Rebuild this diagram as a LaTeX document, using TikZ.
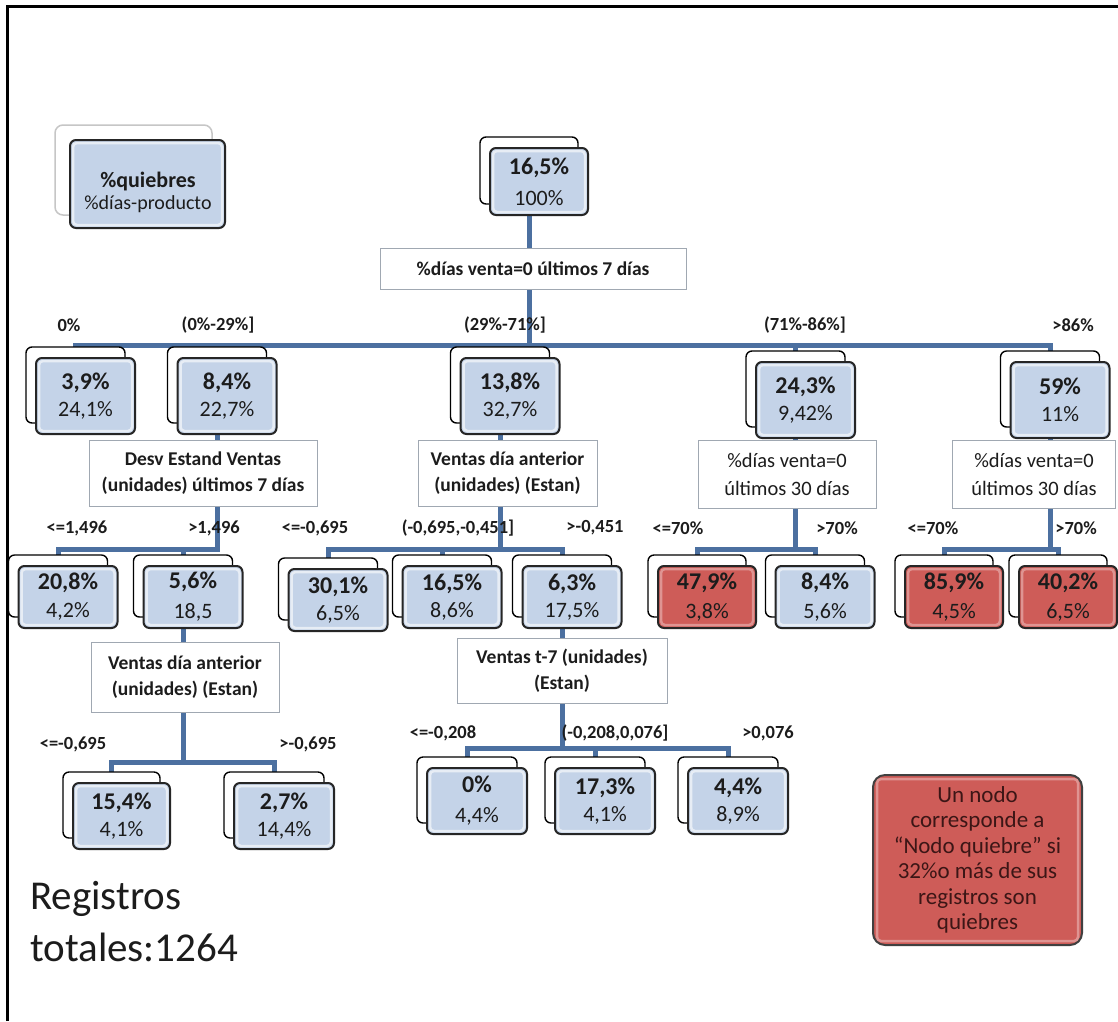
\documentclass[tikz,border=0pt]{standalone}
\usepackage{fontspec}
\setmainfont{Carlito}
\usetikzlibrary{calc,backgrounds}
\definecolor{nodeblue}{RGB}{196,211,232}
\definecolor{nodered}{RGB}{206,92,88}
\definecolor{connblue}{RGB}{76,112,160}
\definecolor{boxgray}{RGB}{160,168,178}
\definecolor{txt}{RGB}{28,28,28}
\definecolor{notetxt}{RGB}{60,22,22}
\tikzset{
  backbox/.style={draw=black, line width=1.4pt, fill=white, rounded corners=6pt, inner sep=0pt},
  bluebox/.style={draw=black!85, line width=2pt, fill=nodeblue, rounded corners=6pt, inner sep=0pt,
    align=center, text=txt, font=\fontsize{22}{27}\selectfont},
  redbox/.style={bluebox, fill=nodered},
  blueboxbevel/.style={draw=white, draw opacity=0.6, line width=2.5pt, rounded corners=4pt},
  redboxbevel/.style={draw=white, draw opacity=0.35, line width=2.5pt, rounded corners=4pt},
  sbox/.style={draw=boxgray, line width=1pt, fill=white, inner sep=0pt, align=center, text=txt,
    font=\fontsize{19.5}{26}\selectfont\bfseries},
  sboxr/.style={sbox, font=\fontsize{20.5}{28}\selectfont},
  lbl/.style={inner sep=0pt, text=txt, font=\fontsize{18.5}{22}\selectfont\bfseries},
  conn/.style={line width=5pt, draw=connblue},
  bt/.style={font=\fontsize{24}{27}\selectfont\bfseries},
}
\newcommand{\hl}[1]{{\fontsize{24}{27}\selectfont\bfseries #1}}
\newcommand{\tnode}[7]{%
  \node[backbox, minimum width=#4pt, minimum height=#5pt] (#1b) at ({#2-10},{#3-11}) {};
  \node[#6, minimum width=#4pt, minimum height=#5pt] (#1) at (#2,#3) {#7};
  \draw[#6bevel] ([shift={(4pt,-4pt)}]#1.north west) rectangle ([shift={(-4pt,4pt)}]#1.south east);
}
\begin{document}
\begin{tikzpicture}[x=1pt,y=-1pt]
\begin{pgfonlayer}{background}
  \fill[white] (0,0) rectangle (1118,1021);
\end{pgfonlayer}
\useasboundingbox (0,0) rectangle (1118,1021);
\draw[line width=3pt] (7,1021) -- (7,6) -- (1118,6);

% legend
\node[draw=gray!45, line width=1.5pt, fill=white, rounded corners=8pt, minimum width=157pt, minimum height=90pt] (legb) at (133.5,170) {};
\node[bluebox, minimum width=155pt, minimum height=88pt] (leg) at (147.5,184) {};
\draw[blueboxbevel] ([shift={(4pt,-4pt)}]leg.north west) rectangle ([shift={(-4pt,4pt)}]leg.south east);
\node[align=center, inner sep=0pt, text=txt, font=\fontsize{20}{22}\selectfont] (legt) at (148,192)
  {{\fontsize{22}{22}\selectfont\bfseries\%quiebres}\\\%días-producto};

% root
\tnode{root}{539}{181.5}{98}{67}{bluebox}{\hl{16,5\%}\\[4pt]100\%}
\node[sbox, minimum width=306pt, minimum height=41pt] (s1) at (533,268.5) {\%días venta=0 últimos 7 días};

% level 1
\tnode{a}{85.5}{396}{99}{76}{bluebox}{\hl{3,9\%}\\24,1\%}
\tnode{b}{227}{396}{99}{76}{bluebox}{\hl{8,4\%}\\22,7\%}
\tnode{c}{510}{396}{99}{76}{bluebox}{\hl{13,8\%}\\32,7\%}
\tnode{d}{805.5}{400}{99}{76}{bluebox}{\hl{24,3\%}\\9,42\%}
\tnode{e}{1060}{400}{99}{76}{bluebox}{\hl{59\%}\\11\%}
\node[lbl] (la) at (69,325) {0\%};
\node[lbl] (lb) at (218,325) {(0\%-29\%]};
\node[lbl] (lc) at (505,325) {(29\%-71\%]};
\node[lbl] (ld) at (805,325) {(71\%-86\%]};
\node[lbl] (le) at (1073,325) {>86\%};

% split boxes level 2
\node[sbox, minimum width=228pt, minimum height=66pt] (sA) at (203,473) {Desv Estand Ventas\\(unidades) últimos 7 días};
\node[sbox, minimum width=179pt, minimum height=66pt] (sB) at (507.5,473) {Ventas día anterior\\(unidades) (Estan)};
\node[sboxr, minimum width=178pt, minimum height=68pt] (sC) at (787,474) {\%días venta=0\\últimos 30 días};
\node[sboxr, minimum width=163pt, minimum height=68pt] (sD) at (1034,474) {\%días venta=0\\últimos 30 días};

% level 2
\tnode{f}{68}{597}{99}{62}{bluebox}{\hl{20,8\%}\\[1pt]4,2\%}
\tnode{g}{193}{597}{99}{62}{bluebox}{\hl{5,6\%}\\[3pt]18,5}
\tnode{h}{338}{600}{99}{62}{bluebox}{\hl{30,1\%}\\6,5\%}
\tnode{i}{452}{597}{99}{62}{bluebox}{\hl{16,5\%}\\8,6\%}
\tnode{j}{572}{597}{99}{62}{bluebox}{\hl{6,3\%}\\17,5\%}
\tnode{k}{707}{597}{98}{62}{redbox}{\hl{47,9\%}\\[2pt]3,8\%}
\tnode{l}{825}{597}{99}{62}{bluebox}{\hl{8,4\%}\\[2pt]5,6\%}
\tnode{m}{954}{597}{98}{62}{redbox}{\hl{85,9\%}\\[2pt]4,5\%}
\tnode{n}{1068}{597}{98}{62}{redbox}{\hl{40,2\%}\\[2pt]6,5\%}
\node[lbl] (lf) at (77,528) {<=1,496};
\node[lbl] (lg) at (214,528) {>1,496};
\node[lbl] (lh) at (315,528) {<=-0,695};
\node[lbl] (li) at (458,528) {(-0,695,-0,451]};
\node[lbl] (lj) at (595,528) {>-0,451};
\node[lbl] (lk) at (678,528) {<=70\%};
\node[lbl] (ll) at (837,528) {>70\%};
\node[lbl] (lm) at (933,528) {<=70\%};
\node[lbl] (ln) at (1076,528) {>70\%};

% split boxes level 3
\node[sbox, minimum width=188pt, minimum height=70pt] (sE) at (185,677) {Ventas día anterior\\(unidades) (Estan)};
\node[sbox, minimum width=210pt, minimum height=65pt] (sF) at (562,671) {Ventas t-7 (unidades)\\(Estan)};

% level 3
\tnode{o}{121.5}{816}{97}{66}{bluebox}{\hl{15,4\%}\\4,1\%}
\tnode{p}{284}{816}{100}{66}{bluebox}{\hl{2,7\%}\\14,4\%}
\tnode{q}{477}{801}{100}{66}{bluebox}{\hl{0\%}\\[3pt]4,4\%}
\tnode{r}{605}{801}{100}{66}{bluebox}{\hl{17,3\%}\\4,1\%}
\tnode{s}{738}{801}{100}{66}{bluebox}{\hl{4,4\%}\\8,9\%}
\node[lbl] (lo) at (73,744) {<=-0,695};
\node[lbl] (lp) at (308,744) {>-0,695};
\node[lbl] (lq) at (443,733) {<=-0,208};
\node[lbl] (lr) at (615,733) {(-0,208,0,076]};
\node[lbl] (ls) at (768,733) {>0,076};

% note
\node[draw=black!75, line width=2pt, fill=nodered, rounded corners=12pt, inner sep=0pt,
  minimum width=209pt, minimum height=170pt, align=center, text=notetxt,
  font=\fontsize{23}{25.5}\selectfont] (note) at (977.5,860)
  {Un nodo\\corresponde a\\“Nodo quiebre” si\\32\%o más de sus\\registros son\\quiebres};
\draw[redboxbevel] ([shift={(5pt,-5pt)}]note.north west) rectangle ([shift={(-5pt,5pt)}]note.south east);

% totals
\node[anchor=west, inner sep=0pt, align=left, text=txt, font=\fontsize{41}{52}\selectfont] (reg) at (30,922) {Registros\\totales:1264};

% connectors
\coordinate (y1) at (0,345);
\coordinate (y2) at (0,549);
\coordinate (y3) at (0,762);
\coordinate (y4) at (0,748);
\begin{pgfonlayer}{background}
  \draw[conn] (rootb.center) -- (rootb.center |- y1);
  \draw[conn] (ab.center) |- (eb.center |- y1) -- (eb.center);
  \draw[conn] (bb.center) -- (bb.center |- y1);
  \draw[conn] (cb.center) -- (cb.center |- y1);
  \draw[conn] (db.center) -- (db.center |- y1);
  \draw[conn] (bb.center) -- (bb.center |- y2) -| (fb.center);
  \draw[conn] (gb.center) -- (gb.center |- y2);
  \draw[conn] (cb.center) -- (cb.center |- y2);
  \draw[conn] (hb.center) |- (jb.center |- y2) -- (jb.center);
  \draw[conn] (ib.center) -- (ib.center |- y2);
  \draw[conn] (db.center) -- (db.center |- y2);
  \draw[conn] (kb.center) |- (lb.center |- y2) -- (lb.center);
  \draw[conn] (eb.center) -- (eb.center |- y2);
  \draw[conn] (mb.center) |- (nb.center |- y2) -- (nb.center);
  \draw[conn] (gb.center) -- (gb.center |- y3);
  \draw[conn] (ob.center) |- (pb.center |- y3) -- (pb.center);
  \draw[conn] (jb.center) -- (jb.center |- y4);
  \draw[conn] (qb.center) |- (sb.center |- y4) -- (sb.center);
  \draw[conn] (rb.center) -- (rb.center |- y4);
\end{pgfonlayer}
\end{tikzpicture}
\end{document}
